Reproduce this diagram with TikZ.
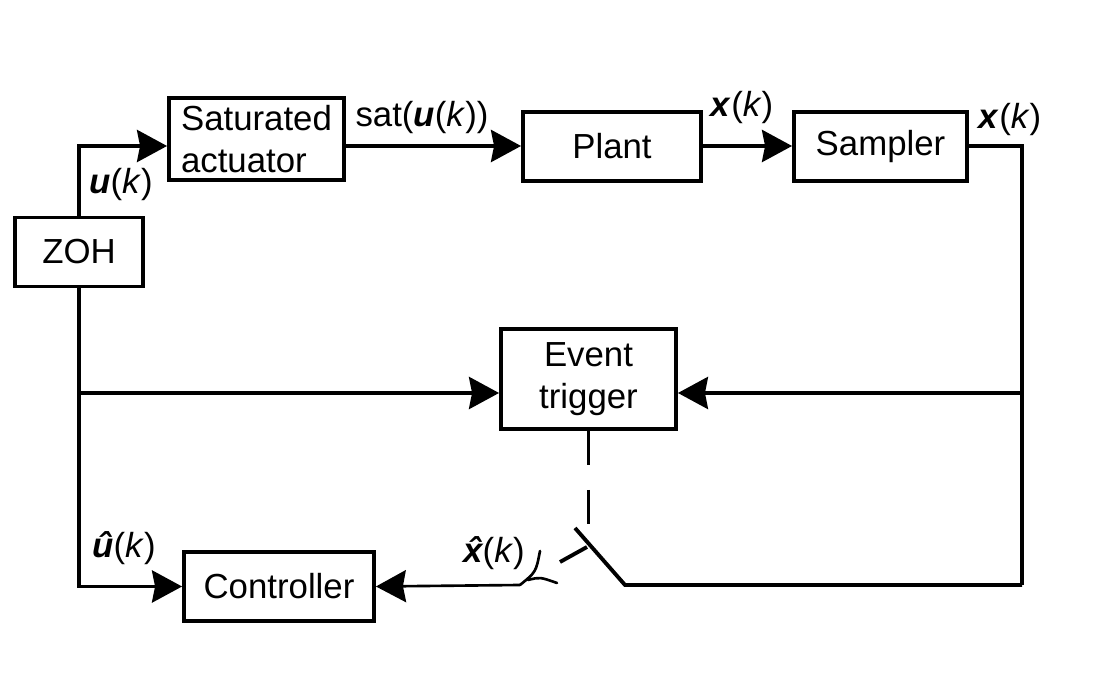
\documentclass[tikz,border=0pt]{standalone}
\usepackage{fontspec}
\setmainfont{Liberation Sans}
\usetikzlibrary{positioning}
\usetikzlibrary{arrows.meta}

% bold vector with its sample index
\newcommand{\vk}[1]{\textbf{\textit{#1}}(\textit{k})}
% bold vector with a hat on top
\newcommand{\hatvk}[1]{\textbf{\textit{\ooalign{#1\cr\hidewidth\kern0.08em\char"02C6\hidewidth\cr}}}(\textit{k})}

\begin{document}
\begin{tikzpicture}[
  block/.style={draw,line width=2.2pt,minimum height=1.38cm,inner sep=2pt,
    font=\fontsize{19.8}{24}\selectfont},
  wire/.style={line width=2.2pt},
  sig/.style={wire,-{Stealth[length=0.6cm,width=0.64cm,inset=0.06cm]}},
  lbl/.style={inner sep=0pt,font=\fontsize{19.8}{22}\selectfont}]
\useasboundingbox (0,0) rectangle (22.16,13.74);
% blocks
\node[block,minimum width=2.56cm] (zoh) at (1.58,8.70) {ZOH};
\node[block,minimum width=3.5cm,minimum height=1.64cm,align=left] (act) at (5.13,10.96) {Saturated\\actuator};
\node[block,minimum width=3.56cm] (plant) at (12.24,10.81) {Plant};
\node[block,minimum width=3.46cm] (smp) at (17.61,10.81) {Sampler};
\node[block,minimum width=3.5cm,minimum height=2.0cm,align=center] (evt) at (11.77,6.16) {Event\\trigger};
\node[block,minimum width=3.8cm] (ctrl) at (5.58,2.01) {Controller};
% helper points
\coordinate (top) at (0,10.82);
\coordinate (mid) at (20.44,5.88);
\coordinate (rt) at (20.44,10.82);
\coordinate (rb) at (20.44,2.04);
\coordinate (swa) at (12.5,2.04);
\coordinate (swb) at (11.5,3.18);
\coordinate (lva) at (11.2,2.5);
\coordinate (lvb) at (11.74,2.8);
\coordinate (dsh) at (11.77,3.2);
\coordinate (hook) at (10.4,2.04);
% forward path
\draw[sig] (zoh.north) |- (act.west |- top);
\draw[sig] (act.east |- top) -- (plant.west |- top);
\draw[sig] (plant.east |- top) -- (smp.west |- top);
\draw[wire] (smp.east |- top) -- (rt) -- (rb);
% event trigger inputs
\draw[sig] (mid) -- (evt.east |- mid);
\draw[sig] (zoh.south |- mid) -- (evt.west |- mid);
\draw[sig] (zoh.south) |- (ctrl.west);
% switch
\draw[wire] (rb) -- (swa) -- (swb);
\draw[wire] (lva) -- (lvb);
\draw[wire,dash pattern=on 0.68cm off 0.5cm] (evt.south) -- (dsh);
\draw[line width=1.5pt,-{Stealth[length=0.6cm,width=0.64cm,inset=0.06cm]}] (hook) -- (ctrl.east);
\draw[line width=1.5pt,line cap=round] (10.8,2.72) .. controls (10.72,2.3) .. (hook);
\draw[line width=1.5pt,line cap=round] (10.56,2.14) .. controls (10.8,2.2) .. (11.14,2.08);
% signal labels
\node[lbl] (lu) at (2.42,10.04) {\vk{u}};
\node[lbl] (lsat) at (8.44,11.38) {sat(\vk{u})};
\node[lbl] (lx1) at (14.84,11.58) {\vk{x}};
\node[lbl] (lx2) at (20.2,11.34) {\vk{x}};
\node[lbl] (luh) at (2.48,2.78) {\hatvk{u}};
\node[lbl] (lxh) at (9.88,2.68) {\hatvk{x}};
\end{tikzpicture}
\end{document}
